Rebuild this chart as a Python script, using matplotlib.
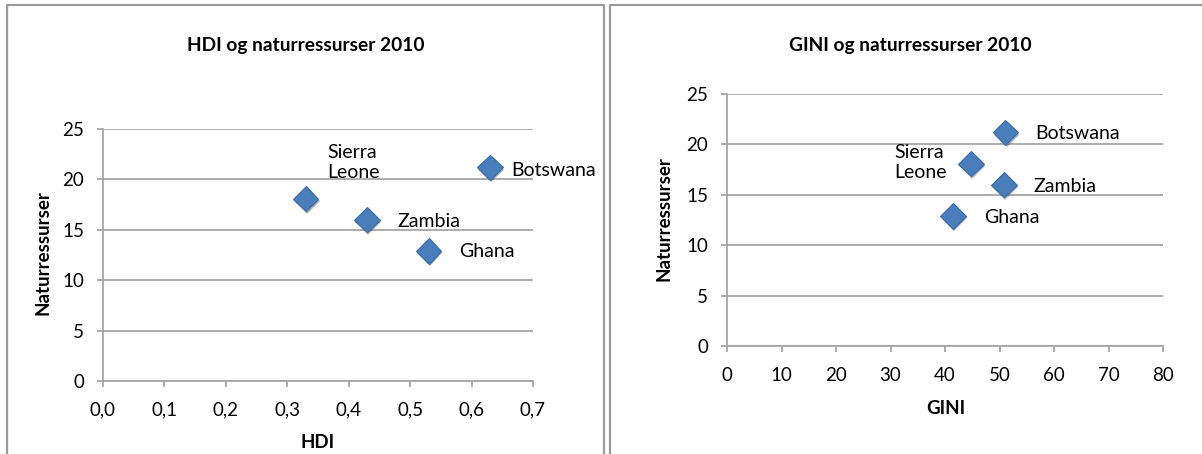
import matplotlib
matplotlib.use("Agg")
import matplotlib.pyplot as plt
from matplotlib.lines import Line2D
from matplotlib.ticker import FixedLocator, FuncFormatter
import matplotlib.patheffects as pe

plt.rcParams['font.family'] = ['Lato', 'DejaVu Sans']

countries = ["Sierra\nLeone", "Zambia", "Ghana", "Botswana"]
hdi = [0.33, 0.43, 0.53, 0.63]
gini = [44.8, 50.8, 41.5, 51.1]
naturressurser = [18.1, 16.0, 12.9, 21.2]

hdi_ticks = [0.0, 0.1, 0.2, 0.3, 0.4, 0.5, 0.6, 0.7]
gini_ticks = [0, 10, 20, 30, 40, 50, 60, 70, 80]
y_ticks = [0, 5, 10, 15, 20, 25]

# label offsets in pixels (dx, dy), alignment
left_offsets = [(22, 36, 'left'), (30, -2, 'left'), (31, -1, 'left'), (21, -3, 'left')]
right_offsets = [(-24, 1, 'right'), (30, -2, 'left'), (31, -2, 'left'), (30, -1, 'left')]

W, H = 1202, 454
fig = plt.figure(figsize=(W / 100, H / 100), dpi=100)

GRAY = '#a6a6a6'
FRAME = '#9a9a9a'
BLUE = '#4a7ebb'

TICK_FS = 13.5
LABEL_FS = 14
TITLE_FS = 13.8
AXLABEL_FS = 13.5

def px(x0, y0, x1, y1):
    return [x0 / W, 1 - y1 / H, (x1 - x0) / W, (y1 - y0) / H]

# chart frames
for xs, ys in [([7, 7, 604, 604], [H + 5, 5, 5, H + 5]),
               ([610, 610, W + 5], [H + 5, 5, 5])]:
    fig.add_artist(Line2D([x / W for x in xs], [1 - y / H for y in ys],
                          color=FRAME, lw=1.6, transform=fig.transFigure))

def style(ax, xticks, fmt):
    ax.set_ylim(0, 25)
    ax.set_xlim(xticks[0], xticks[-1])
    ax.xaxis.set_major_locator(FixedLocator(xticks))
    ax.yaxis.set_major_locator(FixedLocator(y_ticks))
    ax.xaxis.set_major_formatter(FuncFormatter(fmt))
    for s in ['top', 'right']:
        ax.spines[s].set_visible(False)
    for s in ['left', 'bottom']:
        ax.spines[s].set_color(GRAY)
        ax.spines[s].set_linewidth(1.3)
    ax.grid(axis='y', color=GRAY, lw=1.3)
    ax.set_axisbelow(True)
    ax.tick_params(axis='both', colors=GRAY, length=4.5, width=1.3,
                   labelcolor='black', labelsize=TICK_FS)
    ax.tick_params(axis='x', pad=10.5)
    ax.tick_params(axis='y', pad=9)
    ax.patch.set_alpha(0)

def draw(ax, xs, offsets):
    ax.plot(xs, naturressurser, linestyle='none', marker='D', markersize=13,
            color=BLUE, markeredgecolor='#3a6aa5', markeredgewidth=0.8,
            path_effects=[pe.SimplePatchShadow(offset=(0.8, -1.6), alpha=0.35),
                          pe.Normal()], zorder=3, clip_on=False)
    for x, y, name, (dx, dy, ha) in zip(xs, naturressurser, countries, offsets):
        ax.annotate(name, (x, y), xytext=(dx * 0.72, dy * 0.72),
                    textcoords='offset points', ha=ha, va='center',
                    multialignment='left', fontsize=LABEL_FS, linespacing=1.2)

ax1 = fig.add_axes(px(103, 129, 533, 381))
style(ax1, hdi_ticks, lambda v, p: f"{v:.1f}".replace('.', ','))
draw(ax1, hdi, left_offsets)

ax2 = fig.add_axes(px(727, 94, 1163, 346))
style(ax2, gini_ticks, lambda v, p: f"{v:.0f}")
draw(ax2, gini, right_offsets)

fig.text(306 / W, 1 - 45 / H, "HDI og naturressurser 2010", ha='center', va='center',
         fontsize=TITLE_FS, fontweight='bold')
fig.text(910 / W, 1 - 45 / H, "GINI og naturressurser 2010", ha='center', va='center',
         fontsize=TITLE_FS, fontweight='bold')
fig.text(318 / W, 1 - 442 / H, "HDI", ha='center', va='center', fontsize=AXLABEL_FS,
         fontweight='bold')
fig.text(946 / W, 1 - 408 / H, "GINI", ha='center', va='center', fontsize=AXLABEL_FS,
         fontweight='bold')
fig.text(43 / W, 1 - 253 / H, "Naturressurser", ha='center', va='center', rotation=90,
         fontsize=AXLABEL_FS, fontweight='bold')
fig.text(664 / W, 1 - 219 / H, "Naturressurser", ha='center', va='center', rotation=90,
         fontsize=AXLABEL_FS, fontweight='bold')

fig.savefig("out.png", dpi=100)
